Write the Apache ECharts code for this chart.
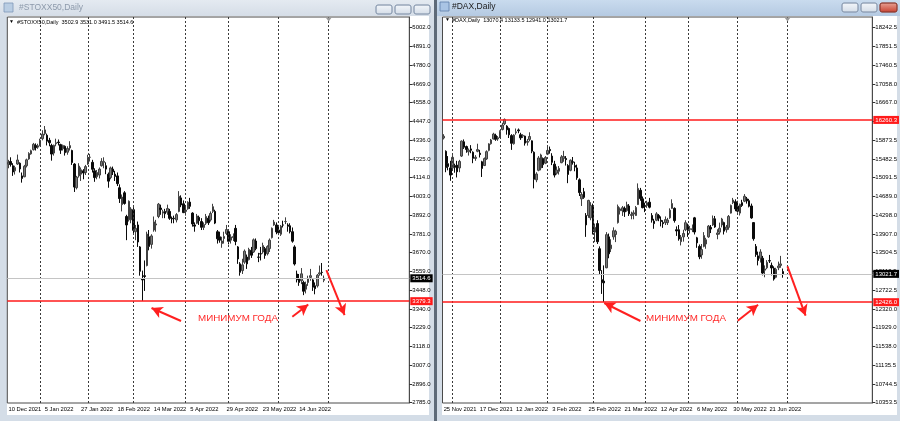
<!DOCTYPE html>
<html><head><meta charset="utf-8">
<script src="https://cdn.jsdelivr.net/npm/echarts@6/dist/echarts.min.js"></script>
<style>html,body{margin:0;padding:0;background:#d4dde7;}#c{width:900px;height:421px;}</style>
</head><body><div id="c"></div>
<script>
// ---------- data ----------
const closedDays = ['2021-12-24','2021-12-31','2022-04-15','2022-04-18'];
const stoxxStart = '2021-12-10';
const daxStart = '2021-11-25';
const gridLinesUntil = '2022-07-01';

// [open, close, low, high]
const stoxxOHLC = [
[4190,4200,4165,4215],[4205,4187,4175,4230],[4180,4143,4120,4195],[4150,4169,4128,4180],[4190,4214,4185,4246],
[4195,4161,4140,4200],[4120,4105,4080,4140],[4115,4177,4112,4185],[4180,4215,4170,4222],[4220,4252,4215,4260],
[4250,4269,4245,4275],[4275,4307,4270,4315],[4300,4287,4270,4312],[4290,4298,4280,4310],
[4300,4331,4295,4340],[4340,4367,4330,4390],[4370,4392,4360,4415],[4360,4325,4300,4370],[4330,4316,4295,4345],
[4300,4249,4210,4310],[4255,4301,4240,4305],[4310,4316,4295,4340],[4320,4316,4300,4335],[4305,4272,4250,4310],
[4280,4300,4270,4305],[4295,4257,4240,4300],[4260,4282,4245,4295],[4285,4299,4270,4325],[4270,4199,4185,4275],
[4190,4054,4025,4195],[4050,4113,4040,4120],[4120,4178,4110,4195],[4130,4156,4090,4170],[4150,4137,4100,4160],
[4140,4175,4125,4185],[4190,4228,4185,4245],[4230,4230,4205,4250],[4200,4159,4140,4215],[4150,4110,4085,4165],
[4115,4140,4100,4155],[4125,4160,4105,4170],[4180,4206,4175,4225],[4200,4206,4165,4230],[4180,4160,4130,4200],
[4130,4089,4050,4140],[4110,4167,4100,4175],[4160,4144,4125,4175],[4130,4117,4090,4150],[4120,4074,4060,4140],
[4050,3986,3960,4070],[3950,3995,3910,4010],[4020,3957,3950,4030],[3880,3830,3740,3890],[3860,3970,3850,3975],
[3860,3924,3840,3935],[3920,3798,3780,3935],[3790,3810,3740,3830],[3830,3729,3700,3850],[3700,3556,3530,3705],
[3510,3505,3381,3560],[3530,3525,3440,3620],[3590,3776,3585,3790],[3760,3703,3680,3800],[3715,3765,3690,3775],
[3800,3848,3790,3880],[3830,3836,3790,3860],[3880,3953,3870,3960],[3930,3921,3890,3950],[3900,3908,3870,3920],
[3910,3896,3870,3925],[3905,3927,3890,3950],[3910,3869,3860,3925],[3870,3865,3840,3880],[3870,3867,3840,3885],
[3860,3891,3845,3900],[3910,3999,3905,4030],[3990,3948,3935,4005],[3955,3903,3900,3975],[3910,3918,3885,3940],
[3925,3964,3920,3970],[3965,3940,3925,3990],[3900,3836,3820,3905],[3830,3823,3790,3845],[3840,3883,3835,3895],
[3875,3855,3830,3885],[3850,3816,3800,3870],[3815,3832,3800,3845],[3840,3880,3830,3895],[3870,3843,3830,3885],
[3860,3898,3850,3910],[3910,3938,3900,3955],[3910,3841,3835,3920],[3790,3748,3720,3800],[3760,3740,3725,3790],
[3720,3735,3695,3760],[3750,3762,3720,3790],[3780,3803,3770,3830],[3790,3733,3715,3800],[3740,3759,3720,3775],
[3755,3762,3735,3780],[3810,3732,3710,3830],[3700,3629,3600,3705],[3600,3550,3530,3610],[3560,3594,3540,3630],
[3610,3675,3600,3685],[3640,3600,3570,3655],[3625,3685,3620,3695],[3680,3651,3635,3700],[3670,3742,3665,3750],
[3735,3690,3680,3750],[3640,3639,3610,3665],[3660,3658,3620,3700],[3670,3708,3660,3725],[3690,3650,3630,3700],
[3660,3702,3650,3710],[3690,3740,3670,3750],[3755,3810,3750,3815],[3830,3847,3825,3860],[3830,3789,3775,3845],
[3800,3784,3770,3830],[3775,3823,3765,3830],[3830,3829,3815,3855],[3850,3850,3835,3875],[3830,3822,3790,3840],
[3825,3790,3780,3840],[3790,3734,3725,3815],[3700,3599,3590,3710],[3540,3506,3490,3560],[3510,3490,3470,3540],
[3500,3541,3480,3575],[3490,3438,3415,3500],[3450,3478,3425,3495],[3490,3512,3470,3530],[3520,3530,3500,3570],
[3505,3462,3440,3515],[3470,3453,3420,3490],[3470,3533,3460,3540],[3540,3547,3530,3590],[3550,3549,3530,3605],
[3502.9,3514.6,3491.5,3531.0]
];

const daxOHLC = [
[15880,15917,15850,15960],[15600,15257,15160,15620],[15340,15280,15200,15500],[15250,15100,14980,15400],
[15250,15473,15200,15520],[15300,15263,15150,15340],[15310,15170,15050,15400],
[15250,15387,15160,15420],[15500,15814,15480,15830],[15800,15687,15650,15850],[15700,15639,15570,15720],[15590,15623,15510,15660],
[15650,15621,15560,15730],[15580,15453,15350,15600],[15450,15476,15400,15520],[15600,15636,15580,15760],[15560,15532,15470,15630],
[15380,15240,15060,15400],[15300,15447,15290,15470],[15440,15593,15420,15620],[15620,15756,15600,15770],
[15760,15838,15740,15860],[15860,15964,15850,15990],[15930,15853,15820,15970],[15860,15885,15820,15920],
[15900,16021,15880,16040],[16060,16152,16040,16200],[16180,16271,16150,16290],[16130,16052,15950,16150],[16080,15948,15880,16100],
[15930,15768,15630,15960],[15760,15942,15740,15960],[15990,16010,15950,16080],[16050,16031,15980,16080],[15950,15883,15840,15990],
[15920,15934,15880,15960],[15920,15772,15720,15930],[15790,15810,15720,15860],[15850,15912,15810,16000],[15820,15603,15560,15830],
[15580,15011,14820,15600],[15000,15123,14950,15160],[15200,15460,15180,15500],[15250,15524,15200,15550],[15450,15318,15250,15470],
[15350,15471,15330,15500],
[15540,15619,15520,15700],[15640,15613,15550,15700],[15500,15368,15310,15560],[15330,15100,15050,15400],
[15140,15206,15110,15280],[15180,15242,15110,15290],[15360,15482,15350,15520],[15450,15490,15380,15610],[15450,15425,15300,15500],
[15300,15113,14930,15330],[15200,15412,15180,15430],[15380,15370,15320,15480],[15300,15267,15180,15380],[15250,15042,15000,15320],
[15000,14731,14660,15030],[14600,14693,14450,14740],[14750,14631,14600,14830],[14250,14052,13800,14300],[14250,14567,14200,14580],
[14200,14461,14150,14530],
[14450,13905,13850,14500],[13900,14000,13690,14080],[14080,13698,13650,14150],[13550,13094,13000,13600],
[12900,12835,12600,13100],[12870,12832,12430,13200],[13150,13847,13140,13900],[13800,13443,13350,13870],[13550,13628,13480,13750],
[13800,13929,13740,14000],[13850,13917,13690,13950],[14100,14440,14080,14480],[14350,14388,14270,14420],[14350,14413,14240,14450],
[14400,14326,14220,14440],[14350,14474,14330,14540],[14450,14285,14240,14490],[14250,14273,14170,14330],[14280,14306,14170,14360],
[14250,14418,14240,14450],[14480,14821,14470,14925],[14780,14606,14560,14830],[14600,14415,14400,14650],
[14450,14446,14320,14520],
[14460,14518,14410,14560],[14530,14424,14400,14620],[14250,14152,14100,14300],[14130,14079,13970,14180],[14150,14284,14130,14320],
[14250,14193,14130,14280],[14150,14125,14020,14230],[14100,14077,13990,14150],[14100,14163,14050,14230],
[14100,14153,14050,14200],[14200,14362,14180,14400],[14400,14502,14390,14590],[14400,14143,14100,14420],
[13950,13924,13820,14020],[13950,13756,13720,14050],[13700,13794,13620,13840],[13800,13872,13700,13950],[13950,14098,13920,14150],
[14050,13940,13800,14080],[13960,13970,13870,14030],[13950,13971,13900,14060],[14200,13902,13850,14220],[13780,13674,13570,13800],
[13600,13381,13330,13640],[13420,13534,13340,13650],[13600,13828,13580,13900],[13650,13739,13550,13780],[13800,14027,13780,14050],
[14000,13964,13880,14050],[14050,14186,14030,14250],[14180,14008,13990,14240],[13850,13882,13750,13960],[13900,13982,13850,14100],
[14050,14175,14000,14200],[14100,13920,13850,14120],[13950,14008,13890,14050],[14000,14231,13950,14260],[14300,14462,14290,14480],
[14520,14575,14490,14620],[14540,14388,14340,14590],
[14450,14340,14310,14560],[14300,14485,14250,14500],[14520,14460,14430,14580],
[14550,14653,14530,14700],[14600,14556,14500,14640],[14560,14445,14420,14600],[14450,14199,14180,14500],[14100,13762,13720,14110],
[13600,13427,13380,13650],[13400,13304,13200,13490],[13350,13483,13260,13540],[13350,13038,12990,13400],[13100,13126,12950,13200],
[13150,13265,13120,13310],[13300,13292,13250,13420],[13200,13145,12990,13260],[13140,12912,12880,13180],[12950,13118,12930,13150],
[13150,13186,13100,13280],[13200,13231,13150,13400],[13070.4,13021.7,12941.0,13133.5]
];

const stoxxTickLabels = ['2785.0','2896.0','3007.0','3118.0','3229.0','3340.0','3448.0','3559.0','3670.0','3781.0','3892.0',
  '4003.0','4114.0','4225.0','4336.0','4447.0','4558.0','4669.0','4780.0','4891.0','5002.0'];
const daxTickLabels = ['10353.5','10744.5','11135.5','11538.0','11929.0','12320.0','12722.5','13113.5','13504.5','13907.0','14298.0',
  '14689.0','15091.5','15482.5','15873.5','','16667.0','17058.0','17460.5','17851.5','18242.5'];

const stoxxQuote = ['3502.9','3531.0','3491.5','3514.6'];
const daxQuote = ['13070.4','13133.5','12941.0','13021.7'];

const stoxxBid = 3514.6, stoxxYearLow = 3379.3;
const daxBid = 13021.7, daxYearHigh = 16260.3, daxYearLow = 12426.0;

// arrows: [tailIndex, tailPrice, headIndex, headPrice]
const stoxxArrows = [[76.0,3262,63.2,3339],[125.4,3287,131.9,3360],[139.8,3563,148.2,3297]];
const daxArrows = [[86.8,12030,70.9,12409],[129.7,12037,138.9,12373],[151.6,13181,159.7,12143]];

const noteText = 'МИНИМУМ ГОДА';

// ---------- helpers ----------
const MON = ['Jan','Feb','Mar','Apr','May','Jun','Jul','Aug','Sep','Oct','Nov','Dec'];
function tradingDays(start, n) {
  const out = []; const d = new Date(start + 'T00:00:00Z');
  while (out.length < n) {
    const wd = d.getUTCDay(); const iso = d.toISOString().slice(0,10);
    if (wd !== 0 && wd !== 6 && closedDays.indexOf(iso) < 0) out.push(iso);
    d.setUTCDate(d.getUTCDate() + 1);
  }
  return out;
}
function fmt(iso) { const p = iso.split('-'); return (+p[2]) + ' ' + MON[+p[1]-1] + ' ' + p[0]; }

const FONT = "'Liberation Sans',Arial,sans-serif";

// perPx: price units per pixel; shift: data drawn this many px above the tick-label grid
const panels = [
  { start: stoxxStart, slots: 177, ohlc: stoxxOHLC, left: 7.3, width: 402,
    min: 2783.2, max: 5065.3, perPx: 5.912, shift: 1, tickBase: 2785, tickStep: 110.85, tickLabels: stoxxTickLabels,
    bid: stoxxBid, reds: [stoxxYearLow], arrows: stoxxArrows },
  { start: daxStart, slots: 190, ohlc: daxOHLC, left: 442.5, width: 430,
    min: 10347.2, max: 18467.6, perPx: 21.04, shift: 2, tickBase: 10353.5, tickStep: 394.45, tickLabels: daxTickLabels,
    bid: daxBid, reds: [daxYearHigh, daxYearLow], arrows: daxArrows }
];

const grids = [], xAxes = [], yAxes = [], series = [];
panels.forEach(function (p, i) {
  const iso = tradingDays(p.start, p.slots);
  const lastData = p.ohlc.length - 1;
  // future (empty) slots get blank category names
  const cats = iso.map(function (d, k) { return k <= lastData ? fmt(d) : ''; });
  const monthIdx = [];
  for (let k = 1; k < iso.length; k++) {
    if (iso[k].slice(5,7) !== iso[k-1].slice(5,7) && iso[k] <= gridLinesUntil) monthIdx.push(k);
  }
  p.shiftIdx = monthIdx[monthIdx.length - 1];
  const off = p.shift * p.perPx;
  const tickVals = p.tickLabels.map(function (_, k) { return p.tickBase + k * p.tickStep - off; });
  grids.push({ left: p.left, top: 17, width: p.width, height: 386, show: true,
    borderColor: '#4a4a4a', borderWidth: 1, backgroundColor: '#fff' });
  xAxes.push({ type: 'category', gridIndex: i, data: cats, boundaryGap: true,
    axisLine: { show: false }, axisTick: { show: false }, splitLine: { show: false },
    axisLabel: { interval: function (idx) { return idx % 16 === 0 && idx <= lastData; },
      hideOverlap: false,
      align: 'left', fontSize: 5.8, fontFamily: FONT, color: '#000', margin: 3 } });
  yAxes.push({ type: 'value', gridIndex: i, position: 'right', min: p.min - off, max: p.max - off,
    splitLine: { show: false },
    axisLine: { show: true, lineStyle: { color: '#4a4a4a' } },
    axisTick: { show: true, length: 3, customValues: tickVals, lineStyle: { color: '#333' } },
    axisLabel: { customValues: tickVals, fontSize: 6, fontFamily: FONT, color: '#000', margin: 3,
      hideOverlap: false,
      formatter: function (v) { return p.tickLabels[Math.round((v + off - p.tickBase) / p.tickStep)] || ''; } } });

  const ml = [];
  monthIdx.forEach(function (k) {
    ml.push({ xAxis: k, lineStyle: { color: '#3a3a3a', width: 1, type: [2, 2] }, label: { show: false } });
  });
  ml.push({ yAxis: p.bid, lineStyle: { color: '#c4c4c4', width: 1, type: 'solid' },
    label: { show: true, position: 'end', distance: 1, formatter: p.bid.toFixed(1), color: '#fff',
      backgroundColor: '#000', padding: [1, 2, 0, 2], fontSize: 6, fontFamily: FONT, lineHeight: 7 } });
  p.reds.forEach(function (v) {
    ml.push({ yAxis: v, lineStyle: { color: '#ff1a1a', width: 1.5, type: 'solid' },
      label: { show: true, position: 'end', distance: 1, formatter: v.toFixed(1), color: '#fff',
        backgroundColor: '#ff1a1a', padding: [1, 2, 0, 2], fontSize: 6, fontFamily: FONT, lineHeight: 7 } });
  });
  p.arrows.forEach(function (a) {
    ml.push([{ coord: [a[0], a[1]], symbol: 'none', lineStyle: { color: '#ff2020', width: 2, type: 'solid' }, label: { show: false } },
             { coord: [a[2], a[3]], symbol: 'arrow', symbolSize: [9, 11] }]);
  });

  series.push({ type: 'candlestick', xAxisIndex: i, yAxisIndex: i, data: p.ohlc, barWidth: 2,
    itemStyle: { color: '#7a7a7a', color0: '#0a0a0a', borderColor: '#404040', borderColor0: '#0a0a0a', borderWidth: 1 },
    markLine: { silent: true, symbol: ['none', 'none'], animation: false, data: ml } });
});

// ---------- window chrome ----------
const LG = echarts.graphic.LinearGradient;
function btn(x, y, w, h, red) {
  return { type: 'rect', shape: { x: x, y: y, width: w, height: h, r: 2 }, z: 5,
    style: { fill: red ? new LG(0,0,0,1,[{offset:0,color:'#e8a598'},{offset:1,color:'#c8402f'}])
                       : new LG(0,0,0,1,[{offset:0,color:'#f4f7fb'},{offset:1,color:'#d3dce7'}]),
             stroke: red ? '#8e3a30' : '#8a9bb0', lineWidth: 0.8 } };
}
const gfx = [
  // left window
  { type: 'rect', shape: { x: 0, y: 0, width: 434, height: 16 }, z: -5,
    style: { fill: new LG(0,0,0,1,[{offset:0,color:'#e4eaf1'},{offset:1,color:'#d5dde7'}]) } },
  { type: 'rect', shape: { x: 7, y: 16, width: 422, height: 399 }, z: -5, style: { fill: '#fff' } },
  { type: 'rect', shape: { x: 4, y: 3, width: 9, height: 9 }, z: 5, style: { fill: '#b9cde3', stroke: '#7d98b8', lineWidth: 0.8 } },
  { type: 'text', x: 19, y: 8, z: 5, style: { text: '#STOXX50,Daily', fontSize: 8.5, fontFamily: FONT, fill: '#8d9aab', verticalAlign: 'middle' } },
  btn(376, 5, 16, 9), btn(395, 5, 16, 9), btn(414, 5, 16, 9),
  { type: 'rect', shape: { x: 434, y: 0, width: 3, height: 421 }, z: -4, style: { fill: '#5e6a78' } },
  // right window
  { type: 'rect', shape: { x: 437, y: 0, width: 463, height: 16 }, z: -5,
    style: { fill: new LG(0,0,0,1,[{offset:0,color:'#c9dbee'},{offset:1,color:'#b5cae2'}]) } },
  { type: 'rect', shape: { x: 442, y: 16, width: 455, height: 399 }, z: -5, style: { fill: '#fff' } },
  { type: 'rect', shape: { x: 440, y: 2, width: 9, height: 9 }, z: 5, style: { fill: '#a9c4e4', stroke: '#5d7fa8', lineWidth: 0.8 } },
  { type: 'text', x: 452, y: 7, z: 5, style: { text: '#DAX,Daily', fontSize: 8.5, fontFamily: FONT, fill: '#1a1a1a', verticalAlign: 'middle' } },
  btn(842, 3, 16, 9), btn(861, 3, 16, 9), btn(880, 3, 17, 9, true),
  // info lines
  { type: 'text', x: 9, y: 22, z: 20, style: { text: '▼', fontSize: 5, fill: '#000', verticalAlign: 'middle' } },
  { type: 'text', x: 17, y: 22, z: 20, style: { text: '#STOXX50,Daily  ' + stoxxQuote.join(' '), fontSize: 5.5, fontFamily: FONT, fill: '#000', verticalAlign: 'middle' } },
  { type: 'text', x: 445, y: 20, z: 20, style: { text: '▼', fontSize: 5, fill: '#000', verticalAlign: 'middle' } },
  { type: 'text', x: 452, y: 20, z: 20, style: { text: '#DAX,Daily  ' + daxQuote.join(' '), fontSize: 5.5, fontFamily: FONT, fill: '#000', verticalAlign: 'middle' } },
  // notes
  { type: 'text', x: 198, y: 318, z: 20, style: { text: noteText, fontSize: 9.8, fontFamily: FONT, fill: '#ff2a2a', verticalAlign: 'middle' } },
  { type: 'text', x: 646, y: 318, z: 20, style: { text: noteText, fontSize: 9.8, fontFamily: FONT, fill: '#ff2a2a', verticalAlign: 'middle' } }
];

const chart = echarts.init(document.getElementById('c'), null, { renderer: 'canvas' });
chart.setOption({
  animation: false,
  backgroundColor: '#d4dde7',
  grid: grids, xAxis: xAxes, yAxis: yAxes, series: series, graphic: gfx
});
// chart-shift markers at top of each plot
const shiftMarks = panels.map(function (p, i) {
  const x = chart.convertToPixel({ xAxisIndex: i }, p.shiftIdx);
  return { type: 'polygon', z: 20, shape: { points: [[x - 3, 17.5], [x + 3, 17.5], [x, 21.5]] }, style: { fill: '#9a9a9a' } };
});
chart.setOption({ graphic: gfx.concat(shiftMarks) });
</script>
</body></html>
